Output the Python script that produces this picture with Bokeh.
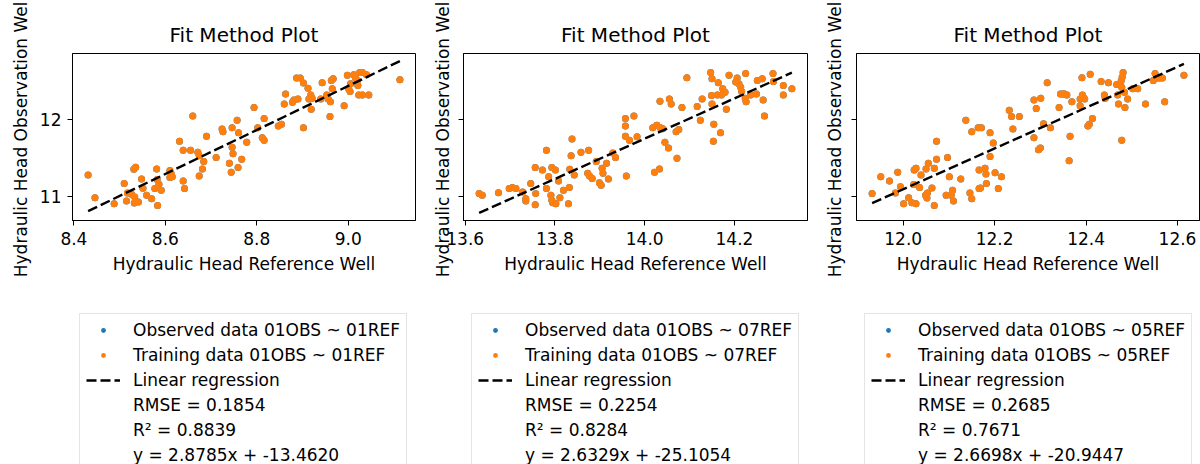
from bokeh.plotting import figure
from bokeh.layouts import row, column
from bokeh.models import Range1d, FixedTicker, Legend, LegendItem
from bokeh.embed import file_html
from bokeh.resources import INLINE

# ---------------- data ----------------
p1_x = [8.431, 8.446, 8.488, 8.510, 8.515, 8.517, 8.526, 8.531, 8.535, 8.533, 8.532, 8.541,
        8.548, 8.551, 8.559, 8.570, 8.577, 8.581, 8.582, 8.586, 8.591, 8.583, 8.610, 8.613,
        8.610, 8.615, 8.639, 8.642, 8.631, 8.639, 8.655, 8.660, 8.671, 8.674, 8.684, 8.681,
        8.674, 8.690, 8.711, 8.724, 8.726, 8.740, 8.744, 8.746, 8.748, 8.746, 8.759, 8.757,
        8.760, 8.767, 8.778,
        8.794, 8.802, 8.812, 8.816, 8.816, 8.847, 8.854, 8.860, 8.863, 8.878, 8.881, 8.887,
        8.895, 8.890, 8.902, 8.902, 8.912, 8.914, 8.918, 8.919, 8.921, 8.940, 8.943, 8.953,
        8.956, 8.960, 8.961, 8.965, 8.963, 8.967, 8.991, 8.998, 9.001, 9.004, 9.005, 9.012,
        9.016, 9.020, 9.021, 9.025, 9.031, 9.040, 9.023, 9.031, 9.045, 9.113]
p1_y = [11.279, 10.983, 10.904, 11.169, 10.939, 11.045, 11.027, 11.355, 11.381, 10.992, 10.912, 10.926,
        11.226, 11.107, 11.014, 10.970, 11.103, 11.359, 11.222, 11.160, 11.080, 10.881, 11.337, 11.293,
        11.248, 11.257, 11.200, 11.103, 11.721, 11.602, 11.602, 12.053, 11.576, 11.531, 11.456, 11.359,
        11.266, 11.788, 11.509, 11.881, 11.845, 11.434, 11.315, 11.898, 11.558, 11.642, 11.377, 11.996,
        11.832, 11.487, 11.708,
        12.163, 11.898, 11.766, 11.735, 12.018, 11.920, 11.943, 12.208, 12.340, 12.230, 12.261, 12.548,
        12.548, 12.274, 12.482, 11.898, 12.416, 12.274, 12.327, 12.141, 12.283, 12.274, 12.486, 12.327,
        12.274, 12.044, 12.239, 12.407, 12.517, 12.539, 12.186, 12.584, 12.407, 12.371, 12.473, 12.592,
        12.548, 12.517, 12.451, 12.619, 12.619, 12.592, 12.327, 12.327, 12.327, 12.526]

p2_x = [13.631, 13.638, 13.674, 13.698, 13.705, 13.713, 13.728, 13.735, 13.735, 13.746, 13.756, 13.757,
        13.756, 13.772, 13.781, 13.781, 13.786, 13.791, 13.793, 13.795, 13.793, 13.801, 13.802, 13.808,
        13.811, 13.819, 13.830, 13.832, 13.833, 13.836, 13.838, 13.843, 13.858, 13.873, 13.875, 13.877,
        13.883, 13.892, 13.899, 13.903, 13.905, 13.907, 13.915, 13.919, 13.929, 13.935, 13.959, 13.957,
        13.957, 13.957, 13.966, 13.976, 13.983,
        14.018, 14.027, 14.035, 14.040, 14.045, 14.053, 14.072, 14.070, 14.076, 14.022, 14.033, 14.034,
        14.055, 14.059, 14.083, 14.094, 14.117, 14.124, 14.128, 14.147, 14.150, 14.149, 14.150, 14.154,
        14.153, 14.169, 14.164, 14.162, 14.171, 14.174, 14.179, 14.182, 14.188, 14.203, 14.206, 14.210,
        14.214, 14.216, 14.225, 14.224, 14.226, 14.236, 14.249, 14.251, 14.262, 14.264, 14.267, 14.286,
        14.287, 14.309, 14.309, 14.328]
p2_y = [11.036, 11.014, 11.049, 11.103, 11.116, 11.103, 11.058, 10.970, 10.939, 11.169, 10.890, 11.036,
        11.377, 11.346, 11.602, 11.103, 11.257, 11.014, 10.948, 10.917, 11.377, 11.346, 10.904, 11.200,
        10.983, 11.080, 10.904, 11.116, 11.355, 11.531, 11.752, 11.279, 11.576, 11.301, 11.602, 11.266,
        11.235, 11.456, 11.178, 11.147, 11.368, 11.301, 11.434, 11.226, 11.567, 11.509, 11.266, 11.788,
        11.920, 12.018, 11.735, 12.053, 11.779,
        11.898, 11.929, 11.898, 11.885, 11.708, 11.633, 11.500, 11.845, 11.876, 11.315, 11.359, 12.243,
        12.274, 12.208, 12.164, 12.553, 12.177, 11.996, 12.274, 12.619, 12.539, 12.318, 12.208, 11.943,
        11.721, 11.832, 12.486, 12.327, 12.327, 12.407, 12.362, 12.141, 12.584, 12.495, 12.548, 12.473,
        12.429, 12.371, 12.606, 12.283, 12.239, 12.327, 12.340, 12.517, 12.539, 12.261, 12.053, 12.606,
        12.504, 12.451, 12.327, 12.407]

p3_x = [11.932, 11.951, 11.970, 11.988, 11.983, 11.994, 12.001, 12.012, 12.019, 12.028, 12.023, 12.024,
        12.028, 12.039, 12.036, 12.050, 12.055, 12.049, 12.053, 12.052, 12.063, 12.068, 12.068, 12.073,
        12.073, 12.097, 12.101, 12.094, 12.105, 12.108, 12.110, 12.126, 12.137, 12.146, 12.150, 12.150,
        12.164, 12.171, 12.166, 12.166, 12.169, 12.179, 12.181, 12.182, 12.190, 12.190, 12.197, 12.201,
        12.208, 12.215, 12.232, 12.237, 12.240, 12.254,
        12.286, 12.291, 12.286, 12.301, 12.296, 12.300, 12.307, 12.315, 12.322, 12.341, 12.344, 12.349,
        12.353, 12.358, 12.365, 12.363, 12.369, 12.387, 12.387, 12.392, 12.394, 12.397, 12.391, 12.404,
        12.407, 12.409, 12.414, 12.433, 12.440, 12.442, 12.449, 12.471, 12.467, 12.469, 12.474, 12.477,
        12.479, 12.481, 12.478, 12.484, 12.478, 12.485, 12.491, 12.502, 12.513, 12.530, 12.547, 12.551,
        12.556, 12.561, 12.567, 12.572, 12.614]
p3_y = [11.036, 11.257, 11.200, 11.315, 11.045, 11.125, 10.904, 10.983, 10.917, 10.904, 11.156, 11.346,
        11.368, 11.279, 11.116, 11.359, 11.434, 11.014, 11.045, 10.979, 11.111, 11.368, 10.881, 11.487,
        11.721, 11.509, 11.257, 11.014, 11.014, 11.080, 10.939, 11.226, 11.996, 11.045, 10.970, 11.845,
        11.898, 11.898, 11.346, 11.103, 11.111, 11.368, 11.293, 11.169, 11.832, 11.523, 11.699, 11.310,
        11.103, 11.257, 12.128, 12.044, 11.881, 12.044,
        12.261, 12.150, 11.766, 12.283, 11.611, 11.633, 11.951, 12.486, 11.898, 12.164, 12.340, 12.340,
        12.340, 12.327, 11.788, 11.465, 12.239, 12.274, 12.186, 12.327, 12.296, 12.274, 12.553, 11.920,
        11.943, 12.597, 12.018, 12.504, 12.327, 12.283, 12.486, 12.208, 12.464, 12.327, 12.473, 12.517,
        12.561, 12.619, 12.429, 12.362, 11.735, 12.164, 12.274, 12.407, 12.407, 12.208, 12.517, 12.606,
        12.548, 12.548, 12.548, 12.239, 12.584]

slopes = [2.8785, 2.6329, 2.6698]
intercepts = [-13.4620, -25.1054, -20.9447]
rmse = ["0.1854", "0.2254", "0.2685"]
r2 = ["0.8839", "0.8284", "0.7671"]
ref_names = ["01REF", "07REF", "05REF"]
obs_name = "01OBS"

x_ticks = [[8.4, 8.6, 8.8, 9.0], [13.6, 13.8, 14.0, 14.2], [12.0, 12.2, 12.4, 12.6]]
x_tick_labels = [["8.4", "8.6", "8.8", "9.0"], ["13.6", "13.8", "14.0", "14.2"],
                 ["12.0", "12.2", "12.4", "12.6"]]
y_ticks = [11, 12]
y_tick_labels = ["11", "12"]

all_x = [p1_x, p2_x, p3_x]
all_y = [p1_y, p2_y, p3_y]

FONT = "DejaVu Sans"
BLUE = "#1f77b4"
ORANGE = "#ff7f0e"
FS = "17px"

# shared y range (matplotlib-like 5% margins over data + lines)
ys_all = []
for k in range(3):
    ys_all += all_y[k]
    ys_all += [slopes[k] * min(all_x[k]) + intercepts[k], slopes[k] * max(all_x[k]) + intercepts[k]]
y_lo, y_hi = min(ys_all), max(ys_all)
y_pad = 0.05 * (y_hi - y_lo)

# layout per panel: (width, min_border_left, min_border_right)
layout = [(425, 72, 10), (392, 38, 10), (383, 39, 1)]
legend_dx = [7, 8, 8]
ylabel_standoff = [6, 6, 7]
PLOT_H = 300
LEG_H = 164


def style_axis(ax):
    ax.axis_line_color = "black"
    ax.major_tick_line_color = "black"
    ax.major_tick_out = 5
    ax.major_tick_in = 0
    ax.minor_tick_line_color = None
    ax.major_label_text_font = FONT
    ax.major_label_text_font_size = FS
    ax.major_label_text_color = "black"
    ax.axis_label_text_font = FONT
    ax.axis_label_text_font_size = FS
    ax.axis_label_text_font_style = "normal"
    ax.axis_label_text_color = "black"


def make_panel(k):
    xs, ys = all_x[k], all_y[k]
    x_lo, x_hi = min(xs), max(xs)
    x_pad = 0.05 * (x_hi - x_lo)
    w, bl, br = layout[k]
    p = figure(width=w, height=PLOT_H, output_backend="svg", toolbar_location=None,
               title="Fit Method Plot",
               x_range=Range1d(x_lo - x_pad, x_hi + x_pad),
               y_range=Range1d(y_lo - y_pad, y_hi + y_pad),
               min_border_left=bl, min_border_right=br,
               min_border_top=53, min_border_bottom=PLOT_H - 53 - 167)
    p.background_fill_color = "white"
    p.border_fill_color = "white"
    p.outline_line_color = "black"
    p.outline_line_alpha = 1.0
    p.outline_line_width = 1
    p.grid.visible = False

    p.title.text_font = FONT
    p.title.text_font_size = "20px"
    p.title.text_font_style = "normal"
    p.title.text_color = "black"
    p.title.align = "center"
    p.title.standoff = 13

    p.scatter(xs, ys, size=7, color=BLUE, line_width=0)
    p.scatter(xs, ys, size=7, color=ORANGE, line_width=0)
    lx = [x_lo, x_hi]
    ly = [slopes[k] * v + intercepts[k] for v in lx]
    p.line(lx, ly, line_color="black", line_width=2.4, line_dash="10 4")

    xa = p.xaxis[0]
    xa.ticker = FixedTicker(ticks=x_ticks[k])
    xa.major_label_overrides = {t: s for t, s in zip(x_ticks[k], x_tick_labels[k])}
    xa.axis_label = "Hydraulic Head Reference Well"
    xa.major_label_standoff = 6
    xa.axis_label_standoff = 6
    ya = p.yaxis[0]
    ya.ticker = FixedTicker(ticks=y_ticks)
    ya.axis_label = "Hydraulic Head Observation Well"
    if k == 0:
        ya.major_label_overrides = {t: s for t, s in zip(y_ticks, y_tick_labels)}
        ya.major_label_standoff = 6
    else:
        ya.major_label_overrides = {t: "" for t in y_ticks}
        ya.major_label_standoff = 0
    ya.axis_label_standoff = ylabel_standoff[k]
    style_axis(xa)
    style_axis(ya)

    # legend panel below the plot (proxy handles sit outside the visible range)
    lg = figure(width=w, height=LEG_H, output_backend="svg", toolbar_location=None,
                x_range=Range1d(0, 1), y_range=Range1d(0, 1),
                x_axis_type=None, y_axis_type=None,
                min_border_left=0, min_border_right=0, min_border_top=0, min_border_bottom=0)
    lg.outline_line_color = None
    lg.grid.visible = False
    lg.background_fill_color = "white"
    lg.border_fill_color = "white"
    h_obs = lg.scatter([-5], [-5], size=7, color=BLUE, line_width=0)
    h_tr = lg.scatter([-5], [-5], size=7, color=ORANGE, line_width=0)
    h_line = lg.line([-5, -4], [-5, -5], line_color="black", line_width=2.4, line_dash="10 4")
    blanks = [lg.scatter([-5], [-5], size=1, fill_alpha=0, line_alpha=0) for _ in range(3)]
    items = [
        LegendItem(label=f"Observed data {obs_name} ~ {ref_names[k]}", renderers=[h_obs]),
        LegendItem(label=f"Training data {obs_name} ~ {ref_names[k]}", renderers=[h_tr]),
        LegendItem(label="Linear regression", renderers=[h_line]),
        LegendItem(label=f"RMSE = {rmse[k]}", renderers=[blanks[0]]),
        LegendItem(label=f"R\u00b2 = {r2[k]}", renderers=[blanks[1]]),
        LegendItem(label=f"y = {slopes[k]:.4f}x + {intercepts[k]:.4f}", renderers=[blanks[2]]),
    ]
    leg = Legend(items=items, location=(legend_dx[k], -8))
    leg.label_text_font = FONT
    leg.label_text_font_size = FS
    leg.label_text_color = "black"
    leg.label_height = 20
    leg.glyph_height = 12
    leg.glyph_width = 34
    leg.label_standoff = 13
    leg.spacing = 5
    leg.padding = 6
    leg.margin = 0
    leg.border_line_color = "#cccccc"
    leg.border_line_width = 1
    leg.background_fill_color = "white"
    leg.background_fill_alpha = 0.8
    lg.add_layout(leg, "center")
    return column(p, lg)


cols = [make_panel(k) for k in range(3)]
page = row(*cols)
open("out.html", "w").write(file_html(page, INLINE))
